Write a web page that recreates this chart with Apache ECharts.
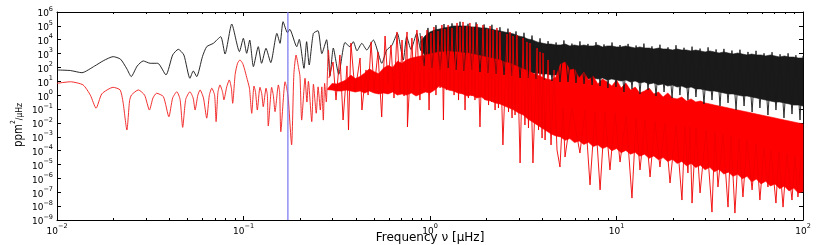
<!DOCTYPE html>
<html><head><meta charset="utf-8">
<script src="https://cdn.jsdelivr.net/npm/echarts@6/dist/echarts.min.js"></script>
<style>html,body{margin:0;padding:0;background:#fff}#c{width:830px;height:245px}</style>
</head><body><div id="c"></div>
<script>
// ---- Low-frequency part (linear values: frequency in µHz, power in ppm²/µHz)
const blackLowFreq = [0.01,0.0118,0.0136,0.0159,0.0178,0.02,0.0219,0.0237,0.025,0.0269,0.029,0.0316,0.0347,0.0384,0.0417,0.0447,0.0479,0.0516,0.0538,0.0561,0.0603,0.0635,0.0689,0.0755,0.0796,0.0865,0.0951,0.0998,0.104,0.108,0.113,0.120,0.125,0.132,0.140,0.151,0.157,0.163,0.172,0.177,0.193,0.199,0.211,0.218,0.225,0.237,0.251,0.263,0.279,0.291,0.303,0.324,0.350,0.372,0.388,0.406,0.431,0.458,0.497,0.528,0.551,0.586,0.625,0.668,0.719,0.750,0.791,0.849,0.895,0.959,1.01,1.07,1.13];
const blackLowPower = [66,60,42,126,316,603,398,79,22,126,295,200,200,29,794,2040,794,16.6,56,22,631,3160,5500,16600,933,135000,1380,12600,1050,9550,115,3160,200,2400,224,28800,5500,200000,32400,56200,3160,10700,87,7240,151,28800,44700,1000,10000,25,2510,32,6310,3160,7240,1590,5500,1820,9550,1050,200,1820,3980,28800,347,16600,2000,28800,1590,16600,2510,50000,3980];

const redLowFreq = [0.01,0.0118,0.0138,0.0151,0.0162,0.0174,0.0200,0.0218,0.0226,0.0237,
0.0245,0.0251,0.0273,0.0295,0.0313,0.0327,0.0342,0.0372,0.0398,0.0417,
0.0439,0.0457,0.0472,0.0490,0.0516,0.0537,0.0550,0.0569,0.0585,0.0610,
0.0635,0.0656,0.0676,0.0700,0.0713,0.0729,0.0748,0.0773,0.0785,0.0813,
0.0839,0.0861,0.0875,0.0902,0.0929,0.0957,0.0989,0.1012,0.1040,0.1076,
0.1107,0.1138,0.1161,0.1186,0.1225,0.1253,0.1276,0.1321,0.1343,0.1358,
0.1416,0.1445,0.1476,0.1538,0.1563,0.1585,0.1671,0.1706,0.1738,0.1811,
0.1862,0.1914,0.1972,0.2009,0.2051,0.2138,0.2188,0.2228,0.2323,0.2371,
0.2455,0.2512,0.2582,0.2630,0.2679,0.2723,0.2780,0.2851,0.2917];
const redLowPower = [7.2,9.3,5.5,1.0,0.115,1.26,3.7,2.4,0.32,0.0031,
0.4,1.05,2.4,1.0,0.085,0.63,1.38,0.79,0.028,0.63,
1.78,0.5,0.0048,0.5,1.78,0.63,0.085,1.0,2.4,0.63,
0.022,1.0,3.2,1.0,0.0123,1.58,5.5,1.58,0.46,4.0,
12.6,3.2,0.26,32,200,347,200,79,19.5,3.2,
0.049,4.6,1.58,0.085,3.7,1.26,0.148,3.2,1.0,0.006,
3.7,1.0,0.065,5.5,1.58,0.0023,9.3,3.2,0.6,0.00026,
32,794,100,22,0.016,16.6,0.32,10,0.0123,6.3,
0.05,4.0,0.085,4.0,0.016,7.2,0.32,1820,22];

// ---- Dense part, stored as log10 values
const denseLogFreq = [-0.55,-0.525,-0.5,-0.475,-0.45,-0.425,-0.4,-0.375,-0.35,-0.325,-0.3,-0.275,-0.25,-0.225,-0.2,-0.175,-0.15,-0.125,-0.1,-0.075,-0.05,-0.025,0,0.025,0.05,0.075,0.1,0.125,0.15,0.175,0.2,0.225,0.25,0.275,0.3,0.325,0.35,0.375,0.4,0.425,0.45,0.475,0.5,0.525,0.55,0.575,0.6,0.625,0.65,0.675,0.7,0.725,0.75,0.775,0.8,0.825,0.85,0.875,0.9,0.925,0.95,0.975,1,1.025,1.05,1.075,1.1,1.125,1.15,1.175,1.2,1.225,1.25,1.275,1.3,1.325,1.35,1.375,1.4,1.425,1.45,1.475,1.5,1.525,1.55,1.575,1.6,1.625,1.65,1.675,1.7,1.725,1.75,1.775,1.8,1.825,1.85,1.875,1.9,1.925,1.95,1.975,2];

const redCoreTopLog = [0.45,0.85,0.81,0.95,1.10,1.45,1.20,1.35,1.60,1.90,
1.70,1.55,1.95,2.15,2.00,2.45,2.30,2.55,2.68,2.75,
2.83,2.90,2.97,3.04,3.12,3.12,3.19,3.12,3.12,3.04,
3.04,2.97,2.90,2.83,2.75,2.68,2.61,2.54,2.39,2.32,
2.18,2.03,1.89,1.75,1.60,1.46,1.31,1.17,1.10,1.31,
2.25,2.39,1.82,1.89,1.24,1.67,1.10,1.38,0.81,1.17,
0.95,0.66,1.10,0.52,0.88,0.37,0.59,0.16,0.30,0.52,
0.09,0.23,-0.13,0.16,-0.20,-0.27,-0.13,-0.42,-0.27,-0.49,
-0.42,-0.56,-0.63,-0.71,-0.78,-0.85,-0.92,-1.00,-1.07,-1.14,
-1.21,-1.28,-1.36,-1.43,-1.50,-1.57,-1.64,-1.72,-1.79,-1.86,
-1.93,-2.00,-2.08];
const redCoreBottomLog = [0.40,0.37,0.30,0.30,0.37,0.30,0.23,0.30,0.16,0.30,
0.16,0.09,0.16,0.09,0.23,0.01,0.09,0.01,0.16,-0.06,
0.09,0.23,0.16,0.37,0.66,0.52,0.37,0.30,0.16,0.09,
-0.06,0.01,-0.20,-0.13,-0.35,-0.42,-0.56,-0.63,-0.78,-0.92,
-1.07,-1.28,-1.43,-1.72,-1.93,-2.15,-2.36,-2.58,-2.80,-2.94,
-3.01,-3.25,-3.13,-3.42,-3.30,-3.55,-3.40,-3.70,-3.58,-3.85,
-3.70,-4.00,-3.85,-4.15,-3.98,-4.25,-4.12,-4.40,-4.25,-4.55,
-4.38,-4.65,-4.50,-4.78,-4.62,-4.92,-4.78,-5.08,-4.92,-5.22,
-5.05,-5.38,-5.20,-5.52,-5.35,-5.68,-5.55,-5.85,-5.70,-6.02,
-5.85,-6.25,-6.05,-6.40,-6.20,-6.55,-6.40,-6.75,-6.55,-6.90,
-6.70,-7.05,-6.95];

const blackCoreTopLog = [null,null,null,null,null,null,null,null,null,null,
null,null,null,null,null,null,null,null,null,null,
3.90,4.30,4.56,4.70,4.77,4.85,4.92,4.99,4.99,4.99,
4.99,4.92,4.92,4.85,4.85,4.77,4.70,4.63,4.56,4.48,
4.41,4.27,4.20,4.05,3.98,3.84,3.76,3.69,3.69,3.62,
3.62,3.69,3.55,3.62,3.55,3.62,3.55,3.55,3.62,3.48,
3.55,3.55,3.48,3.48,3.55,3.48,3.40,3.48,3.40,3.40,
3.33,3.40,3.33,3.33,3.26,3.33,3.26,3.26,3.19,3.26,
3.19,3.12,3.19,3.12,3.04,3.12,3.04,2.97,3.04,2.97,
2.90,2.97,2.90,2.90,2.83,2.90,2.83,2.75,2.83,2.75,
2.75,2.68,2.68];
const blackCoreBottomLog = [null,null,null,null,null,null,null,null,null,null,
null,null,null,null,null,null,null,null,null,null,
3.30,2.80,2.45,2.32,2.25,2.25,2.25,2.18,2.18,2.18,
2.11,2.11,2.03,2.03,1.96,1.96,1.89,1.89,1.82,1.82,
1.75,1.75,1.67,1.67,1.60,1.60,1.53,1.53,1.46,1.46,
1.38,1.38,1.31,1.38,1.24,1.31,1.17,1.24,1.17,1.24,
1.10,1.17,1.10,1.02,1.10,0.95,1.02,0.88,0.95,0.81,
0.88,0.74,0.81,0.66,0.74,0.59,0.66,0.52,0.59,0.45,
0.45,0.37,0.30,0.30,0.23,0.16,0.09,0.09,0.01,-0.06,
-0.06,-0.13,-0.20,-0.27,-0.35,-0.42,-0.49,-0.49,-0.56,-0.63,
-0.71,-0.71,-0.78];

const blackSpikeLogFreq = [-0.054,-0.032,-0.011,0.011,0.032,0.054,0.075,0.097,0.118,0.139,0.161,0.182,0.204,0.225,0.247,0.268,0.290,0.311,0.332,0.354,0.375,0.397,0.418,0.440,0.461,0.483,0.504,0.525,0.547,0.568,0.590,0.611,0.633,0.654,0.676,0.697,0.718,0.740,0.761,0.783,0.804,0.826,0.847,0.869,0.890,0.912,0.933,0.954,0.976,0.997,1.019,1.040,1.062,1.083,1.105,1.126,1.147,1.169,1.190,1.212,1.233,1.255,1.276,1.298,1.319,1.340,1.362,1.383,1.405,1.426,1.448,1.469,1.491,1.512,1.534,1.555,1.576,1.598,1.619,1.641,1.662,1.684,1.705,1.727,1.748,1.769,1.791,1.812,1.834,1.855,1.877,1.898,1.920,1.941,1.962,1.984,2.0];
const blackSpikeLogPower = [4.48,2.11,4.85,1.96,5.05,1.82,5.13,1.96,5.18,1.82,5.30,1.75,5.15,1.82,5.25,1.67,5.10,1.60,5.08,1.53,4.90,1.46,4.80,1.38,4.60,1.24,4.50,1.24,4.30,1.17,4.10,1.10,3.90,1.02,3.80,0.95,3.95,0.95,3.72,0.88,3.88,0.81,3.70,0.74,3.82,0.66,3.66,0.52,3.80,0.59,3.62,0.23,3.70,0.45,3.58,0.09,3.72,0.37,3.52,-0.06,3.64,0.23,3.45,-0.20,3.60,0.01,3.42,-0.35,3.50,-0.13,3.36,-0.63,3.45,-0.35,3.30,-0.78,3.34,-0.56,3.22,-1.07,3.28,-0.78,3.12,-1.21,3.20,-0.92,3.02,-1.43,3.10,-1.07,2.95,-1.64,3.02,-1.36,2.88,-1.79,2.83];

const redSpikeLogFreq = [-0.542,-0.520,-0.504,-0.483,-0.466,-0.445,-0.437,-0.424,-0.402,-0.375,
-0.365,-0.343,-0.332,-0.316,-0.300,-0.279,-0.259,-0.241,-0.225,-0.209,
-0.193,-0.177,-0.161,-0.150,-0.139,-0.123,-0.121,-0.097,-0.086,-0.070,
-0.054,-0.043,-0.032,-0.016,-0.005,0.005,0.013,0.021,0.032,0.043,
0.054,0.064,0.072,0.080,0.088,0.097,0.107,0.118,0.129,0.145,
0.153,0.161,0.169,0.177,0.188,0.198,0.206,0.214,0.225,0.231,
0.241,0.252,0.268,0.284,0.295,0.306,0.314,0.322,0.330,0.338,
0.349,0.359,0.367,0.375,0.391,0.413,0.421,0.429,0.440,0.445,
0.456,0.466,0.483,0.499,0.509,0.520,0.528,0.536,0.552,0.574,
0.582,0.590,0.601,0.606,0.617,0.633,0.649,0.665,0.681,0.697,
0.713,0.724,0.761,0.804,0.831,0.858,0.885,0.912,0.938,0.965,
0.992,1.019,1.051,1.083,1.105,1.126,1.153,1.180,1.206,1.233,
1.260,1.287,1.319,1.351,1.367,1.383,1.394,1.405,1.426,1.448,
1.480,1.512,1.528,1.544,1.571,1.598,1.614,1.635,1.657,1.678,
1.700,1.727,1.748,1.769,1.791,1.812,1.828,1.855,1.871,1.893,
1.914,1.941,1.957,1.973,1.989];
const redSpikeLogPower = [1.24,2.39,-0.35,2.90,-1.79,2.11,-2.51,3.76,0.23,2.68,
-1.07,1.82,0.01,3.84,0.37,3.12,-1.57,4.27,0.74,3.62,
-0.20,4.56,0.23,3.98,-0.06,4.56,-2.29,4.12,0.37,4.70,
-0.35,4.27,0.52,4.70,-1.07,4.48,0.52,4.92,0.01,4.63,
0.52,5.06,-1.79,4.77,0.37,5.06,0.52,4.85,0.01,5.21,
-0.35,4.92,0.23,5.28,-1.07,4.99,-0.20,5.21,-0.06,4.92,
-0.35,5.13,-2.29,5.06,-0.35,4.77,-0.71,4.99,-0.49,4.70,
-1.07,4.85,-0.92,4.56,-3.59,4.41,-1.21,4.56,-1.64,4.27,
-1.43,4.34,-4.89,4.12,-2.15,3.84,-2.36,3.76,-4.89,3.40,
-2.51,3.12,-3.09,3.04,-3.23,2.54,-3.59,1.82,-3.95,-5.18,
-0.92,-4.46,-0.92,-4.17,-1.07,-6.47,-1.14,-6.83,-1.21,-5.39,
-1.28,-4.82,-1.50,-7.42,-1.64,-5.39,-1.79,-5.90,-1.86,-5.18,
-2.00,-6.33,-2.15,-7.56,-2.22,-5.61,-2.29,-7.78,-2.36,-7.05,
-2.51,-8.43,-2.65,-6.62,-2.80,-8.07,-2.94,-8.50,-3.09,-7.34,
-3.23,-6.83,-3.52,-7.56,-3.81,-6.62,-3.95,-7.78,-4.10,-8.07,
-4.24,-7.56,-4.38,-7.34,-4.53];

const markerFreq = 0.173;
const minorTickFreqs = [0.02,0.03,0.04,0.05,0.06,0.07,0.08,0.09,0.2,0.3,0.4,0.5,0.6,0.7,0.8,0.9,2,3,4,5,6,7,8,9,20,30,40,50,60,70,80,90];
const xRange = [0.01, 100];
const yRange = [1e-9, 1e6];

// ---- helpers
const lin = v => Math.pow(10, v);
const pairs = (fs, ps) => fs.map((f, i) => [f, ps[i]]);
const logPairs = (fs, ps) => fs.map((f, i) => [lin(f), lin(ps[i])]);

function band(name, topLog, botLog, color) {
  return {
    type: 'custom', name, coordinateSystem: 'cartesian2d', silent: true,
    data: [[1, 1]],
    renderItem: (params, api) => {
      const pts = [];
      for (let i = 0; i < denseLogFreq.length; i++)
        if (topLog[i] !== null) pts.push(api.coord([lin(denseLogFreq[i]), lin(topLog[i])]));
      for (let i = denseLogFreq.length - 1; i >= 0; i--)
        if (botLog[i] !== null) pts.push(api.coord([lin(denseLogFreq[i]), lin(botLog[i])]));
      return { type: 'polygon', shape: { points: pts }, style: { fill: color, stroke: color, lineWidth: 0.6 } };
    }
  };
}
function line(name, data, color, width, smooth) {
  return { type: 'line', name, data, showSymbol: false, symbol: 'none', smooth: smooth || false,
    lineStyle: { color, width }, itemStyle: { color }, silent: true, clip: true };
}
const supLabel = v => {
  const e = Math.round(Math.log10(v));
  return '{b|10}{s|' + (e < 0 ? '\u2212' + (-e) : e) + '}';
};
const labelRich = {
  b: { fontSize: 9, fontFamily: 'DejaVu Sans', color: '#000', lineHeight: 13, verticalAlign: 'bottom' },
  s: { fontSize: 6.5, fontFamily: 'DejaVu Sans', color: '#000', lineHeight: 8, verticalAlign: 'top' }
};
const axisCommon = {
  type: 'log', logBase: 10, splitLine: { show: false },
  axisLine: { show: true, lineStyle: { color: '#000', width: 1 } },
  axisTick: { show: true, inside: true, length: 4, lineStyle: { color: '#000', width: 1 } }
};

const chart = echarts.init(document.getElementById('c'), null, { renderer: 'canvas' });
chart.setOption({
  animation: false,
  backgroundColor: '#fff',
  grid: { left: 57, right: 27, top: 12, bottom: 25, containLabel: false },
  xAxis: [
    Object.assign({}, axisCommon, { position: 'bottom', min: xRange[0], max: xRange[1], interval: 1,
      axisLabel: { show: true, margin: 3, formatter: supLabel, rich: labelRich, showMinLabel: true, showMaxLabel: true } }),
    Object.assign({}, axisCommon, { position: 'top', min: xRange[0], max: xRange[1], interval: 1, axisLabel: { show: false } })
  ],
  yAxis: [
    Object.assign({}, axisCommon, { position: 'left', min: yRange[0], max: yRange[1], interval: 1,
      axisLabel: { show: true, margin: 4, formatter: supLabel, rich: labelRich, showMinLabel: true, showMaxLabel: true } }),
    Object.assign({}, axisCommon, { position: 'right', min: yRange[0], max: yRange[1], interval: 1, axisLabel: { show: false } })
  ],
  series: [
    line('black-low', pairs(blackLowFreq, blackLowPower), '#111', 0.9, 0.2),
    band('black-core', blackCoreTopLog, blackCoreBottomLog, '#1a1a1a'),
    line('black-spikes', logPairs(blackSpikeLogFreq, blackSpikeLogPower), '#1a1a1a', 0.9),
    line('red-low', pairs(redLowFreq, redLowPower), '#f01818', 0.9, 0.2),
    band('red-core', redCoreTopLog, redCoreBottomLog, '#ff0000'),
    line('red-spikes', logPairs(redSpikeLogFreq, redSpikeLogPower), '#f00000', 0.9),
    line('marker', [[markerFreq, yRange[0]], [markerFreq, yRange[1]]], '#7474f2', 1.2),
    {
      type: 'custom', name: 'minor-ticks', coordinateSystem: 'cartesian2d', silent: true, z: 10,
      data: minorTickFreqs.map(f => [f, 1]),
      renderItem: (params, api) => {
        const f = api.value(0);
        const b = api.coord([f, yRange[0]]);
        const t = api.coord([f, yRange[1]]);
        const x = Math.round(b[0]) + 0.5;
        return { type: 'group', children: [
          { type: 'line', shape: { x1: x, y1: b[1], x2: x, y2: b[1] - 2 }, style: { stroke: '#000', lineWidth: 1 } },
          { type: 'line', shape: { x1: x, y1: t[1], x2: x, y2: t[1] + 2 }, style: { stroke: '#000', lineWidth: 1 } }
        ]};
      }
    }
  ],
  graphic: [
    { type: 'text', x: 430, y: 238, silent: true,
      style: { text: 'Frequency \u03bd [\u03bcHz]', fontSize: 12, fontFamily: 'DejaVu Sans', fill: '#000', align: 'center', verticalAlign: 'middle' } },
    { type: 'text', x: 17, y: 125, rotation: Math.PI / 2, scaleX: 0.85, silent: true,
      style: { text: '{p|ppm}{s|2}{u|/\u03bcHz}', align: 'center', verticalAlign: 'middle', fill: '#000',
        rich: { p: { fontSize: 12, fontFamily: 'DejaVu Sans', lineHeight: 15, verticalAlign: 'bottom' },
                s: { fontSize: 7, fontFamily: 'DejaVu Sans', lineHeight: 8, verticalAlign: 'top' },
                u: { fontSize: 9, fontFamily: 'DejaVu Sans', lineHeight: 15, verticalAlign: 'bottom' } } } }
  ]
});
</script>
</body></html>
